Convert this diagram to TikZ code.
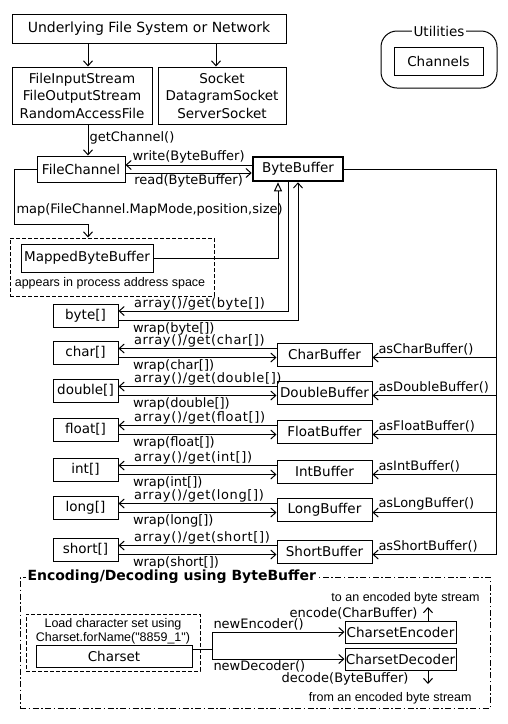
\documentclass[tikz,border=0pt]{standalone}
\usepackage{fontspec}
\setmainfont{DejaVu Sans}
\newfontfamily\arialf{Liberation Sans}
\newfontfamily\spacedf[LetterSpace=5]{DejaVu Sans}
\usetikzlibrary{arrows.meta}
\newcommand\boxfont{\fontsize{13.5}{17.5}\selectfont}
\newcommand\lblfont{\fontsize{13}{15}\selectfont}
\newcommand\arrfont{\spacedf\fontsize{13}{15}\selectfont}
\begin{document}
\begin{tikzpicture}[x=1pt,y=-1pt,line width=1pt,
  box/.style={draw,inner sep=0pt,font=\boxfont},
  lbl/.style={inner sep=1pt,font=\lblfont},
  rowlbl/.style={inner sep=0.5pt,font=\lblfont},
  albl/.style={inner sep=1pt,font=\arialf\fontsize{12.5}{15}\selectfont},
  arr/.style={-{Straight Barb[length=5pt,width=9pt]}},
  inh/.style={-{Triangle[open,length=9pt,width=8pt]}},
  dsh/.style={dash pattern=on 4pt off 2pt},
  ddot/.style={dash pattern=on 6pt off 2.5pt on 1.5pt off 2.5pt}]
\useasboundingbox (0,0) rectangle (508,724);
% top part
\node[box,minimum width=274pt,minimum height=29pt,font=\fontsize{14}{17}\selectfont] (top) at (149,28.5) {Underlying File System or Network};
\node[box,align=center,minimum width=140pt,minimum height=57pt] (fis) at (82,95.5) {FileInputStream\\FileOutputStream\\RandomAccessFile};
\node[box,align=center,minimum width=128pt,minimum height=57pt] (sock) at (222,95.5) {Socket\\DatagramSocket\\ServerSocket};
\coordinate (xa) at (88,0);
\coordinate (xb) at (216,0);
\draw[arr] (top.south -| xa) -- (fis.north -| xa);
\draw[arr] (top.south -| xb) -- (sock.north -| xb);
% utilities
\draw[rounded corners=16pt] (381,31) rectangle (497,88);
\node[inner sep=2pt,fill=white,font=\boxfont] (util) at (439,31) {Utilities};
\node[box,minimum width=89pt,minimum height=28pt] (chan) at (438.5,61) {Channels};
% channels
\node[box,minimum width=88pt,minimum height=26pt] (fc) at (81,169) {FileChannel};
\node[box,line width=2.6pt,minimum width=90pt,minimum height=24pt] (bb) at (298,169) {ByteBuffer};
\draw[arr] (fis.south -| xa) -- (fc.north -| xa) node[lbl,anchor=west,pos=0.42] (gcl) {getChannel()};
\coordinate (yw) at (0,165);
\coordinate (yr) at (0,173);
\draw[arr] (bb.west |- yw) -- (fc.east |- yw) node[lbl,anchor=south,midway] (wl) {write(ByteBuffer)};
\draw[arr] (fc.east |- yr) -- (bb.west |- yr) node[lbl,anchor=north,midway] (rl) {read(ByteBuffer)};
% mapped
\node[draw,dsh,inner sep=0pt,minimum width=204pt,minimum height=58pt] (mframe) at (112,267) {};
\node[box,minimum width=132pt,minimum height=28pt] (mbb) at (87,258) {MappedByteBuffer};
\node[albl] (apr) at (110,283) {appears in process address space};
\coordinate (m1) at (14,224);
\draw[arr] (fc.west) -| (m1) -| (mframe.north -| xa);
\node[lbl,anchor=west] (mapl) at (15,210) {map(FileChannel.MapMode,position,size)};
\coordinate (xt) at (278,0);
\draw[inh] (mbb.east) -| (bb.south -| xt);
% byte row
\node[box,minimum width=65pt,minimum height=23pt] (byte) at (85.5,315.5) {byte[]};
\coordinate (xg) at (288,0);
\coordinate (xw) at (298,0);
\coordinate (yba) at (0,311);
\coordinate (ybw) at (0,320);
\draw[arr] (bb.south -| xg) |- (byte.east |- yba);
\draw[arr] (byte.east |- ybw) -| (bb.south -| xw);
\node[rowlbl,font=\arrfont,anchor=south west] (bytela) at (133,311) {array()/get(byte[])};
\node[rowlbl,anchor=north west] (bytelw) at (132,321.5) {wrap(byte[])};
% right trunk
\coordinate (xr) at (496,0);
\coordinate (yend) at (0,554.5);
\draw (bb.east) -| (xr |- yend);
\foreach \nm/\buf/\as/\y in {char/CharBuffer/asCharBuffer()/352.5,
  double/DoubleBuffer/asDoubleBuffer()/390.5,
  float/FloatBuffer/asFloatBuffer()/429.5,
  int/IntBuffer/asIntBuffer()/469.5,
  long/LongBuffer/asLongBuffer()/507.5,
  short/ShortBuffer/asShortBuffer()/549.5}{
  \node[box,minimum width=65pt,minimum height=23pt] (\nm-a) at (85.5,\y) {\nm[]};
  \node[box,minimum width=95pt,minimum height=23pt] (\nm-b) at (324.5,\y+2) {\buf};
  \coordinate (\nm-ya) at (0,\y-4);
  \coordinate (\nm-yw) at (0,\y+5);
  \draw[arr] (\nm-b.west |- \nm-ya) -- (\nm-a.east |- \nm-ya);
  \draw[arr] (\nm-a.east |- \nm-yw) -- (\nm-b.west |- \nm-yw);
  \draw[arr] (xr |- \nm-yw) -- (\nm-b.east |- \nm-yw);
  \node[rowlbl,font=\arrfont,anchor=south west] (\nm-la) at (133,\y-4) {array()/get(\nm[])};
  \node[rowlbl,anchor=north west] (\nm-lw) at (132,\y+6.5) {wrap(\nm[])};
  \node[lbl,anchor=south west] (\nm-ls) at (377,\y+4) {\as};
}
% encoding section
\node[draw,ddot,inner sep=0pt,minimum width=470pt,minimum height=131pt] (encf) at (255,642.5) {};
\node[fill=white,anchor=west,inner sep=2pt,font=\bfseries\fontsize{14}{17}\selectfont] (enct) at (25,577) {Encoding/Decoding using ByteBuffer};
\node[draw,dsh,inner sep=0pt,minimum width=174pt,minimum height=57pt] (csf) at (113,642.5) {};
\node[albl] (cs1) at (113,624) {Load character set using};
\node[albl] (cs2) at (113,638) {Charset.forName("8859\_1")};
\node[box,minimum width=156pt,minimum height=22pt] (cs) at (114,656) {Charset};
\node[box,minimum width=111pt,minimum height=22pt] (enc) at (400.5,632) {CharsetEncoder};
\node[box,minimum width=111pt,minimum height=22pt] (dec) at (400.5,659) {CharsetDecoder};
\coordinate (xj) at (212,0);
\coordinate (yj) at (0,649);
\draw (cs.east |- yj) -- (xj |- yj);
\draw (xj |- enc.west) -- (xj |- dec.west);
\draw[arr] (xj |- enc.west) -- (enc.west) node[lbl,anchor=south west,pos=0] (nel) {newEncoder()};
\draw[arr] (xj |- dec.west) -- (dec.west) node[lbl,anchor=north west,pos=0] (ndl) {newDecoder()};
\coordinate (xe) at (428,0);
\coordinate (ye) at (0,607);
\coordinate (yd) at (0,684);
\draw[arr] (enc.north -| xe) -- (xe |- ye);
\draw[arr] (dec.south -| xe) -- (xe |- yd);
\node[lbl,anchor=east] (encl) at (419,613) {encode(CharBuffer)};
\node[albl,anchor=east] (encs) at (481,598) {to an encoded byte stream};
\node[lbl,anchor=east] (decl) at (410,679) {decode(ByteBuffer)};
\node[albl,anchor=east] (decs) at (473,698) {from an encoded byte stream};
\end{tikzpicture}
\end{document}
